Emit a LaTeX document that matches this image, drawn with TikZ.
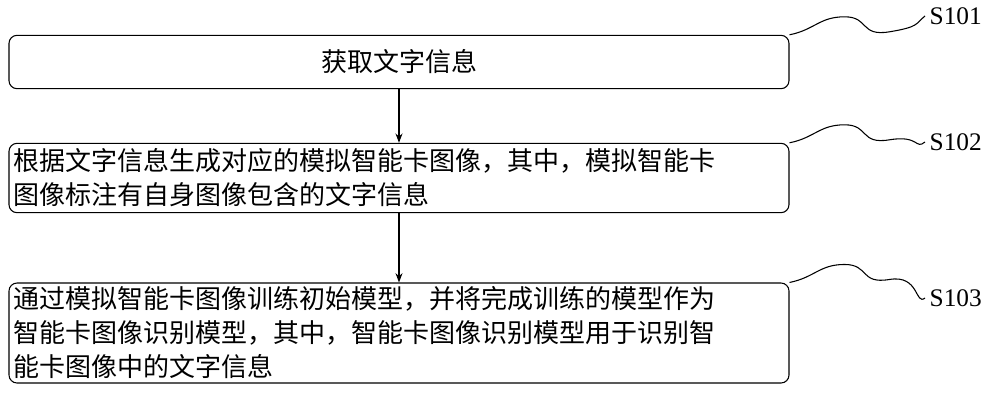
\documentclass[tikz,border=0pt]{standalone}
\usepackage{fontspec}
\setmainfont{Liberation Serif}
\newfontfamily\cjk{Noto Sans CJK SC}
\usetikzlibrary{arrows.meta,positioning}
\begin{document}
\begin{tikzpicture}[x=0.75pt,y=-0.75pt,
			stepbox/.style={draw, rounded corners=0.6em, thick, minimum width=585pt, font=\cjk\fontsize{19.5}{25.5}\selectfont, inner sep=0pt},
			leftbox/.style={stepbox, align=left, text width=578pt},
			steplabel/.style={font=\fontsize{19}{22}\selectfont, anchor=west},
			arrowStrong/.style={thick,-{Stealth[length=7pt]}},
			wave/.style={thick},
			]
			\useasboundingbox (0,0) rectangle (1000,404);
			% boxes
			\node[stepbox, minimum height=40pt] (s1) at (399,62) {获取文字信息};
			\node[leftbox, minimum height=52pt] (s2) at (399,178) {根据文字信息生成对应的模拟智能卡图像，其中，模拟智能卡\\图像标注有自身图像包含的文字信息};
			\node[leftbox, minimum height=75pt] (s3) at (399,333) {通过模拟智能卡图像训练初始模型，并将完成训练的模型作为\\智能卡图像识别模型，其中，智能卡图像识别模型用于识别智\\能卡图像中的文字信息};
			% labels
			\node[steplabel] (l1) at (925,16) {S101};
			\node[steplabel] (l2) at (925,142) {S102};
			\node[steplabel] (l3) at (925,298) {S103};
			% arrows
			\draw[arrowStrong] (s1) -- (s2);
			\draw[arrowStrong] (s2) -- (s3);
			% waves
			\foreach \x in {1,2,3}
			\draw[wave] (s\x.north east) .. controls +(25,-5) and +(-25,0) .. ++(55,-18)
				.. controls +(25,0) and +(-30,5) .. ++(45,15)
				.. controls +(30,-5) and +(-10,8) .. (l\x.west);
		\end{tikzpicture}
\end{document}
